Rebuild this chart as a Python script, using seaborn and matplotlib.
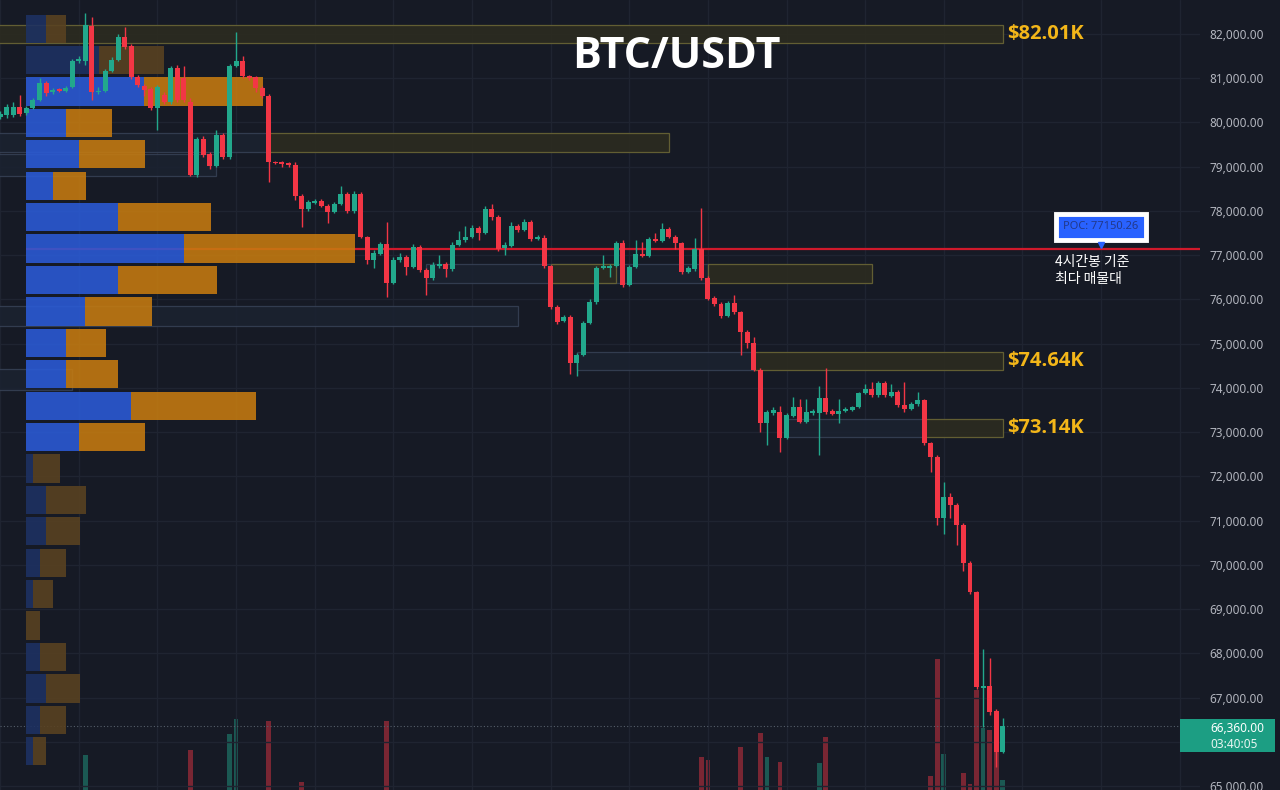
import numpy as np
import pandas as pd
import matplotlib
matplotlib.use("Agg")
import matplotlib.pyplot as plt
import seaborn as sns
from matplotlib.patches import Rectangle
from matplotlib import font_manager

# BTC/USDT 4h candles, oldest first
opens = [80120, 80170, 80170, 80350, 80220, 80330, 80510, 80890, 80690, 80760,
         80710, 80800, 81390, 81390, 82180, 80690, 80710, 81160, 81410, 81930,
         81730, 81030, 80830, 80760, 80330, 80620, 80460, 81230, 81010, 80460,
         78810, 79630, 79290, 79020, 79720, 79220, 81280, 81390, 81050, 81030,
         80780, 80600, 79110, 79110, 79090, 79040, 78340, 78050, 78180, 78230,
         78110, 77980, 78160, 78380, 78000, 78380, 77410, 76890, 77030, 77250,
         76370, 76890, 76960, 76730, 77190, 76670, 76490, 76760, 76800, 76690,
         77230, 77350, 77410, 77620, 77500, 78050, 77860, 77160, 77210, 77660,
         77570, 77750, 77370, 77390, 76760, 75830, 75510, 75600, 74570, 74750,
         75470, 75940, 76710, 76710, 76760, 77280, 76330, 76730, 77030, 76980,
         77370, 77320, 77590, 77410, 77280, 76620, 76690, 77140, 76490, 76030,
         75900, 75630, 75920, 75720, 75270, 75020, 74410, 73210, 73430, 73460,
         72870, 73370, 73570, 73230, 73430, 73430, 73770, 73480, 73410, 73480,
         73500, 73570, 73890, 73980, 73840, 74110, 73820, 73910, 73620, 73530,
         73640, 73730, 72760, 72440, 71060, 71540, 71360, 70900, 70040, 69390,
         67220, 67270, 66700, 65770]
highs = [80260, 80420, 80460, 80620, 80380, 80560, 81000, 80930, 80780, 80790,
         80820, 81430, 81500, 82475, 82380, 80800, 81200, 81480, 82000, 82160,
         81780, 81080, 80870, 80800, 80850, 80700, 81280, 81300, 81280, 80550,
         79680, 79700, 79330, 79830, 79760, 81320, 82045, 81500, 81080, 81060,
         80820, 80640, 79130, 79140, 79110, 79100, 78380, 78250, 78280, 78260,
         78150, 78200, 78570, 78420, 78450, 78420, 77440, 77120, 77300, 77750,
         76960, 77050, 77000, 77250, 77230, 76700, 76850, 77000, 76850, 77300,
         77550, 77650, 77680, 77650, 78120, 78150, 77900, 77300, 77750, 77700,
         77820, 77800, 77450, 77450, 76790, 75880, 75650, 75640, 74800, 75510,
         76000, 76750, 77000, 76800, 77320, 77350, 76780, 77350, 77300, 77410,
         77500, 77720, 77640, 77450, 77300, 76760, 77400, 78070, 76520, 76070,
         75950, 75960, 76100, 75750, 75300, 75150, 74440, 73500, 73560, 73600,
         73430, 73800, 73750, 73750, 73520, 74050, 74450, 73520, 73750, 73560,
         73600, 73920, 74100, 74130, 74150, 74150, 74100, 73950, 74130, 73680,
         73900, 73760, 72790, 72480, 71880, 71620, 71400, 70940, 70100, 69420,
         68100, 67900, 66740, 66540]
lows = [80080, 80100, 80120, 80150, 80180, 80300, 80480, 80600, 80650, 80690,
        80690, 80780, 81350, 81300, 80510, 80640, 80680, 81140, 81380, 81650,
        80980, 80800, 80600, 80280, 79830, 80420, 80420, 80460, 80460, 78780,
        78770, 79220, 78950, 78990, 79180, 79180, 81250, 81010, 80960, 80700,
        80560, 78655, 79060, 78990, 79000, 78250, 77640, 78000, 78150, 78080,
        77730, 77950, 78130, 77950, 77960, 77380, 76800, 76700, 77000, 76060,
        76350, 76850, 76550, 76700, 76620, 76100, 76450, 76720, 76500, 76650,
        77200, 77300, 77380, 77350, 77480, 77800, 77100, 77000, 77180, 77530,
        77540, 77320, 77340, 76700, 75780, 75440, 75480, 74320, 74260, 74720,
        75440, 75900, 76680, 76500, 76730, 76280, 76300, 76700, 76950, 76950,
        77290, 77290, 77380, 77150, 76580, 76590, 76650, 76450, 75980, 75860,
        75580, 75600, 75680, 74750, 74900, 74380, 73000, 72710, 73400, 72550,
        72840, 73340, 73200, 73200, 73400, 72485, 73420, 73380, 73200, 73450,
        73480, 73550, 73860, 73800, 73800, 73800, 73790, 73580, 73450, 73500,
        73600, 72700, 72100, 70900, 70700, 71050, 70450, 69870, 69350, 67200,
        66340, 66600, 65434, 65740]
closes = [80190, 80350, 80350, 80190, 80330, 80510, 80890, 80670, 80730, 80710,
          80780, 81390, 81430, 82200, 80690, 80720, 81160, 81410, 81930, 81710,
          81030, 80850, 80730, 80330, 80800, 80460, 81230, 80510, 80510, 78810,
          79630, 79270, 79020, 79720, 79220, 81280, 81390, 81050, 81010, 80780,
          80600, 79110, 79090, 79060, 79040, 78340, 78050, 78200, 78230, 78110,
          77980, 78160, 78380, 78000, 78380, 77410, 76890, 77050, 77250, 76370,
          76890, 76960, 76730, 77190, 76670, 76490, 76780, 76800, 76690, 77230,
          77350, 77410, 77620, 77500, 78050, 77860, 77140, 77230, 77660, 77570,
          77750, 77370, 77410, 76760, 75830, 75490, 75600, 74570, 74750, 75470,
          75940, 76710, 76760, 76760, 77280, 76330, 76730, 77030, 76980, 77370,
          77320, 77590, 77410, 77280, 76620, 76710, 77140, 76490, 76010, 75900,
          75630, 75920, 75720, 75270, 75020, 74410, 73210, 73460, 73500, 72870,
          73390, 73570, 73230, 73460, 73480, 73770, 73460, 73410, 73480, 73530,
          73570, 73890, 73980, 73840, 74110, 73840, 73910, 73620, 73530, 73640,
          73730, 72760, 72440, 71060, 71540, 71360, 70900, 70040, 69390, 67240,
          67270, 66680, 65770, 66360]

# visible volume bars (candle index, volume)
vol_idx = [13, 29, 35, 36, 41, 46, 59, 107, 108, 113, 116, 117, 119, 125, 126,
           142, 143, 144, 147, 148, 149, 150, 151, 152, 153]
vol_val = [75, 80, 96, 111, 109, 48, 109, 73, 70, 83, 97, 73, 68, 67, 93,
           54, 171, 76, 57, 46, 140, 102, 100, 85, 50]

# volume profile, 24 price rows from low to high
prof_buy = [7, 14, 20, 14, 0, 7, 14, 20, 20, 7, 53, 105, 40, 40, 59, 92,
            158, 92, 27, 53, 40, 118, 73, 20]
prof_sell = [13, 26, 34, 26, 14, 20, 26, 34, 40, 27, 66, 125, 52, 40, 67, 99,
             171, 93, 33, 66, 46, 119, 65, 20]
value_area = [False] * 10 + [True] * 12 + [False] * 2
poc_price = 77150.26

# order blocks
zone_lo = [81796, 79333, 79333, 78791, 75401, 73954, 76373, 76373, 76373,
           74406, 74406, 72892, 72892]
zone_hi = [82203, 79763, 79763, 79288, 75853, 74429, 76802, 76802, 76802,
           74813, 74813, 73299, 73299]
zone_start = [-1, -1, 41, -1, -1, -1, 65, 84, 108, 88, 115, 120, 141]
zone_end = [153, 41, 102, 33, 79, 11, 108, 94, 133, 115, 153, 141, 153]
zone_kind = ["bear", "bull", "bear", "bull", "bull", "bull", "bull", "bear",
             "bear", "bull", "bear", "bull", "bear"]
level_labels = ["$82.01K", "$74.64K", "$73.14K"]
level_prices = [82000, 74610, 73095]

last_price = "66,360.00"
countdown = "03:40:05"

BG = "#161a25"
GRID = "#1f2431"
UP = "#22a88c"
DOWN = "#f23645"
YELLOW = "#f3b619"

sns.set_theme(style="dark", rc={"axes.facecolor": BG, "figure.facecolor": BG})
plt.rcParams["font.family"] = ["Noto Sans", "DejaVu Sans"]

# pick a sans family that really has a bold face
installed = {f.name: f for f in font_manager.fontManager.ttflist if f.weight in (700, "bold")}
BOLD_FAM = next((n for n in ["Open Sans", "Noto Sans", "Lato", "Roboto"] if n in installed),
                "DejaVu Sans")

W, H = 1280, 790
fig = plt.figure(figsize=(W / 100, H / 100), dpi=100)
rect = [0, 0, 1200 / W, 1]
ax_vol = fig.add_axes(rect)
ax = fig.add_axes(rect, sharex=ax_vol)
ax.patch.set_alpha(0)

df = pd.DataFrame({"open": opens, "high": highs, "low": lows, "close": closes})
df["i"] = np.arange(len(df))
df["up"] = df["close"] >= df["open"]
cols = np.where(df["up"], UP, DOWN)

ax.set_xlim(-0.03, 183.1)
ax.set_ylim(64914, 82768)

# grid
ax.set_yticks(np.arange(65000, 82001, 1000))
ax.set_xticks(np.arange(0, 184, 12))
ax.grid(True, color=GRID, lw=1)
ax.set_axisbelow(True)
ax.yaxis.tick_right()
# 66,000 sits under the last-price tag
ax.yaxis.set_major_formatter(
    matplotlib.ticker.FuncFormatter(lambda v, _: "" if v == 66000 else f"{v:,.2f}"))
ax.tick_params(axis="y", length=0, pad=7, labelsize=8.5, labelcolor="#b2b5be")
ax.tick_params(axis="x", length=0, labelbottom=False)
for a in (ax, ax_vol):
    for s in a.spines.values():
        s.set_visible(False)

# volume
vcols = [UP if df["up"][i] else DOWN for i in vol_idx]
ax_vol.bar(vol_idx, vol_val, width=0.72, color=vcols, alpha=0.45, linewidth=0)
ax_vol.set_ylim(40, 830)
ax_vol.set_yticks([])
ax_vol.tick_params(axis="x", length=0, labelbottom=False)
ax_vol.grid(False)

# order blocks
for lo, hi, x0, x1, kind in zip(zone_lo, zone_hi, zone_start, zone_end, zone_kind):
    fc, ec = ("#2c2b20", "#6a6535") if kind == "bear" else ("#1b2230", "#364054")
    ax.add_patch(Rectangle((x0, lo), x1 - x0, hi - lo, fc=fc, ec=ec, lw=0.9,
                           alpha=0.9, zorder=1))
for lab, p in zip(level_labels, level_prices):
    ax.text(153.6, p, lab, color=YELLOW, fontsize=14.5, fontweight="bold",
            family=BOLD_FAM, ha="left", va="center", zorder=5)

# volume profile
lo_p, hi_p = df["low"].min(), df["high"].max()
step = (hi_p - lo_p) / len(prof_buy)
centers = lo_p + step * (np.arange(len(prof_buy)) + 0.5)
prof_left = 3.95
scale = 1 / 6.55
buy_w = np.array(prof_buy) * scale
sell_w = np.array(prof_sell) * scale
buy_c = ["#2b5bd8" if v else "#1d3163" for v in value_area]
sell_c = ["#c67b10" if v else "#5a4221" for v in value_area]
ax.hlines(poc_price, prof_left, 183.1, color="#d0192b", lw=1.6, zorder=1.5)
ax.barh(centers, buy_w, left=prof_left, height=step * 0.9, color=buy_c,
        alpha=0.88, linewidth=0, zorder=2)
ax.barh(centers, sell_w, left=prof_left + buy_w, height=step * 0.9,
        color=sell_c, alpha=0.88, linewidth=0, zorder=2)

# candles
ax.vlines(df["i"], df["low"], df["high"], colors=cols, lw=1, zorder=3)
body_lo = np.minimum(df["open"], df["close"])
body_h = np.maximum((df["close"] - df["open"]).abs(), 25)
ax.bar(df["i"], body_h, bottom=body_lo, width=0.76, color=cols, linewidth=0,
       zorder=3.1)

# last price line
ax.axhline(66360, color="#56606b", ls=(0, (1, 2)), lw=0.8, zorder=1)

# POC label
ax.text(168, 77640, f"POC: {poc_price:.2f}", ha="center", va="center",
        fontsize=8, color="#22398a", zorder=6,
        bbox=dict(boxstyle="square,pad=0.7", fc="#2962ff", ec="white", lw=3.5))
ax.plot(168, 77225, marker="v", ms=5, color="#2962ff", zorder=6)
ax.text(161, 77010, "4시간봉 기준\n최다 매물대", ha="left", va="top",
        fontsize=10, color="white", linespacing=1.3, zorder=6,
        fontweight="medium", family=["Noto Sans CJK KR", "DejaVu Sans"])

fig.text(676 / W, 1 - 57 / H, "BTC/USDT", ha="center", va="center",
         fontsize=31, fontweight="bold", family=BOLD_FAM, color="white")

# last price tag on the price scale
fig.add_artist(Rectangle((1180 / W, 1 - 752 / H), 95 / W, 33 / H,
                         transform=fig.transFigure, fc="#1c9e83", ec="none",
                         zorder=10))
fig.text(1210 / W, 1 - 728 / H, last_price, ha="left", va="center",
         fontsize=8.5, color="white", zorder=11)
fig.text(1210 / W, 1 - 744 / H, countdown, ha="left", va="center",
         fontsize=8.5, color="#e8f5f1", zorder=11)

fig.savefig("out.png", dpi=100, facecolor=BG)
